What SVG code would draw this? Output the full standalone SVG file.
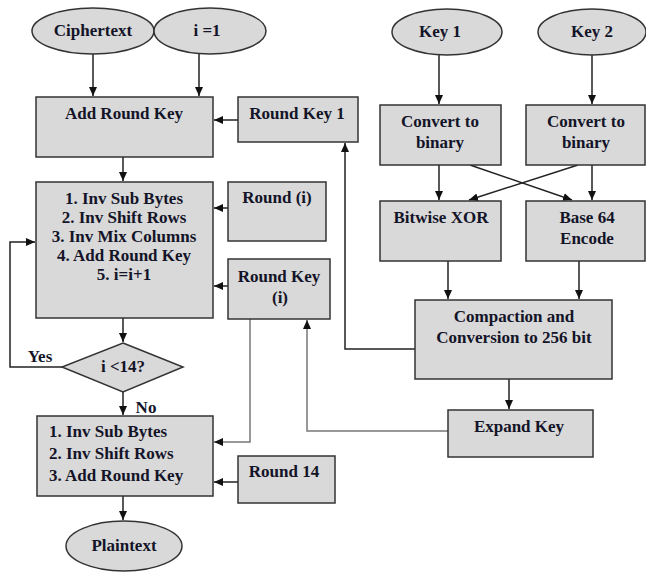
<svg xmlns="http://www.w3.org/2000/svg" width="646" height="572" viewBox="0 0 646 572">
<defs>
<marker id="ah" markerWidth="10" markerHeight="10" refX="9" refY="5" orient="auto" markerUnits="userSpaceOnUse">
<path d="M0,1 L9,5 L0,9 z" fill="#111"/>
</marker>
<style>
.n{fill:#d9d9d9;stroke:#333;stroke-width:1.5}
.t{font-family:"Liberation Serif","Times New Roman",serif;font-weight:bold;font-size:17px;fill:#141428;text-anchor:middle}
.l{text-anchor:start}
.c{fill:none;stroke:#222;stroke-width:1.5;marker-end:url(#ah)}
.ga{fill:none;stroke:#777;stroke-width:1.5;marker-end:url(#ah)}
</style>
</defs>
<rect width="646" height="572" fill="#fff"/>
<g id="connectors">
<path class="c" d="M93,54 V96"/>
<path class="c" d="M199,54 V96"/>
<path class="c" d="M238,120 H214"/>
<path class="c" d="M123,157 V181"/>
<path class="c" d="M228,208 H214"/>
<path class="c" d="M228,286 H214"/>
<path class="c" d="M123,318 V342"/>
<path class="c" d="M62,367 H10 V242 H35"/>
<path class="c" d="M123,392 V415"/>
<path class="ga" d="M250,319 V442 H214"/>
<path class="c" d="M238,482 H214"/>
<path class="c" d="M123,496 V520"/>
<path class="c" d="M439,55 V104"/>
<path class="c" d="M592,55 V104"/>
<path class="c" d="M439,165 V200"/>
<path class="c" d="M592,165 V200"/>
<path class="c" d="M470,165 L572,200"/>
<path class="c" d="M578,165 L469,200"/>
<path class="c" d="M448,261 V299"/>
<path class="c" d="M579,261 V299"/>
<path class="c" d="M415,349 H345 V143"/>
<path class="c" d="M509,379 V409"/>
<path class="ga" d="M448,431 H307 V320"/>
</g>
<g id="ciphertext"><ellipse class="n" cx="93" cy="31" rx="61" ry="23"/><text class="t" x="93" y="36">Ciphertext</text></g>
<g id="i1"><ellipse class="n" cx="210" cy="31" rx="56" ry="23"/><text class="t" x="207" y="36">i =1</text></g>
<g id="addroundkey"><rect class="n" x="36" y="97" width="177" height="60"/><text class="t" x="124" y="119">Add Round Key</text></g>
<g id="roundkey1"><rect class="n" x="238" y="97" width="120" height="45"/><text class="t" x="297" y="119">Round Key 1</text></g>
<g id="rounds"><rect class="n" x="36" y="182" width="177" height="136"/>
<text class="t" x="124" y="204">1. Inv Sub Bytes</text>
<text class="t" x="124" y="223">2. Inv Shift Rows</text>
<text class="t" x="124" y="242">3. Inv Mix Columns</text>
<text class="t" x="124" y="261">4. Add Round Key</text>
<text class="t" x="124" y="280">5. i=i+1</text></g>
<g id="roundi"><rect class="n" x="228" y="182" width="98" height="59"/><text class="t" x="277" y="203">Round (i)</text></g>
<g id="roundkeyi"><rect class="n" x="228" y="259" width="102" height="60"/><text class="t" x="279" y="282">Round Key</text><text class="t" x="280" y="303">(i)</text></g>
<g id="decision"><polygon class="n" points="123,343 183,367 123,392 62,367"/><text class="t" x="123" y="372">i &lt;14?</text></g>
<text class="t" x="40" y="362">Yes</text>
<text class="t" x="146" y="413">No</text>
<g id="final"><rect class="n" x="37" y="416" width="176" height="80"/>
<text class="t l" x="49" y="437">1. Inv Sub Bytes</text>
<text class="t l" x="49" y="459">2. Inv Shift Rows</text>
<text class="t l" x="49" y="481">3. Add Round Key</text></g>
<g id="round14"><rect class="n" x="238" y="456" width="97" height="47"/><text class="t" x="284" y="477">Round 14</text></g>
<g id="plaintext"><ellipse class="n" cx="124" cy="546" rx="58" ry="25"/><text class="t" x="124" y="551">Plaintext</text></g>
<g id="key1"><ellipse class="n" cx="447" cy="32" rx="55" ry="23"/><text class="t" x="440" y="37">Key 1</text></g>
<g id="key2"><ellipse class="n" cx="592" cy="32" rx="54" ry="23"/><text class="t" x="592" y="37">Key 2</text></g>
<g id="convert1"><rect class="n" x="380" y="105" width="121" height="60"/><text class="t" x="440" y="127">Convert to</text><text class="t" x="440" y="148">binary</text></g>
<g id="convert2"><rect class="n" x="526" y="105" width="119" height="60"/><text class="t" x="586" y="127">Convert to</text><text class="t" x="586" y="148">binary</text></g>
<g id="xor"><rect class="n" x="380" y="201" width="121" height="60"/><text class="t" x="441" y="223">Bitwise XOR</text></g>
<g id="base64"><rect class="n" x="526" y="201" width="119" height="60"/><text class="t" x="587" y="223">Base 64</text><text class="t" x="587" y="244">Encode</text></g>
<g id="compaction"><rect class="n" x="415" y="300" width="197" height="79"/><text class="t" x="514" y="322">Compaction and</text><text class="t" x="514" y="343">Conversion to 256 bit</text></g>
<g id="expandkey"><rect class="n" x="448" y="410" width="145" height="47"/><text class="t" x="519" y="432">Expand Key</text></g>
</svg>
